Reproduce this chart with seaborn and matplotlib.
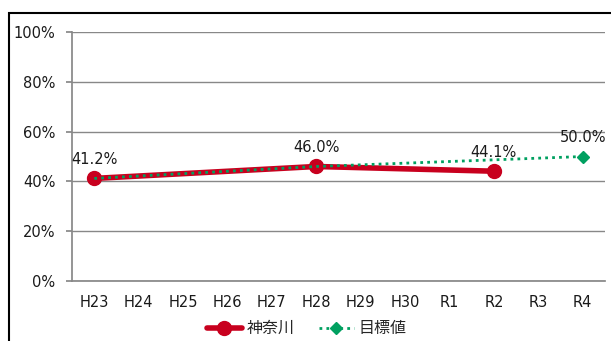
import matplotlib
matplotlib.use('Agg')
import matplotlib.pyplot as plt
import numpy as np
import pandas as pd
import seaborn as sns
from matplotlib.patches import Rectangle

YEARS = ['H23', 'H24', 'H25', 'H26', 'H27', 'H28', 'H29', 'H30', 'R1', 'R2', 'R3', 'R4']
KANAGAWA = [41.2, None, None, None, None, 46.0, None, None, None, 44.1, None, None]
TARGET = [41.2, None, None, None, None, 46.0, None, None, None, None, None, 50.0]
LABELS = {0: '41.2%', 5: '46.0%', 9: '44.1%', 11: '50.0%'}
SERIES_NAMES = ['神奈川', '目標値']

sns.set_theme(style='white')
plt.rcParams['font.family'] = ['DejaVu Sans', 'Noto Sans CJK JP']

df = pd.DataFrame({
    'x': np.arange(len(YEARS)),
    SERIES_NAMES[0]: pd.array(KANAGAWA, dtype='Float64'),
    SERIES_NAMES[1]: pd.array(TARGET, dtype='Float64'),
})

fig = plt.figure(figsize=(6.11, 3.41), dpi=100)
ax = fig.add_axes([0.118, 0.176, 0.872, 0.730])

# outer frame like the original chart box
fig.patches.append(Rectangle((9 / 611, -0.1), 1.2, 1 - 13 / 341 + 0.1,
                             transform=fig.transFigure, fill=False,
                             edgecolor='black', linewidth=1.5))

red = '#C8001E'
green = '#00A060'

k = df[['x', SERIES_NAMES[0]]].dropna()
t = df[['x', SERIES_NAMES[1]]].dropna()
ax.plot(k['x'], k[SERIES_NAMES[0]].astype(float), color=red, lw=4,
        marker='o', ms=10, label=SERIES_NAMES[0], zorder=3)
ax.plot(t['x'], t[SERIES_NAMES[1]].astype(float), color=green, lw=2,
        ls=(0, (1, 1.5)), marker='D', ms=6, markevery=[len(t) - 1],
        label=SERIES_NAMES[1], zorder=4)

vals = df[[SERIES_NAMES[0], SERIES_NAMES[1]]].max(axis=1)
for i, txt in LABELS.items():
    ax.annotate(txt, (i, float(vals[i])), xytext=(0, 8), textcoords='offset points',
                ha='center', va='bottom', fontsize=10.5, color='#1a1a1a')

ax.set_xlim(-0.5, len(YEARS) - 0.5)
ax.set_ylim(0, 100)
ax.set_yticks(range(0, 101, 20))
ax.set_yticklabels([f'{v}%' for v in range(0, 101, 20)], fontsize=10.5, color='#1a1a1a')
ax.set_xticks(range(len(YEARS)))
ax.set_xticklabels(YEARS, fontsize=10.5, color='#1a1a1a')
ax.tick_params(axis='x', length=0, pad=10)
ax.set_xticks(np.arange(-0.5, len(YEARS), 1), minor=True)
ax.tick_params(axis='x', which='minor', length=4, color='#888888', direction='out')
ax.tick_params(axis='y', length=4, color='#888888', direction='out', left=True, pad=8)
ax.grid(axis='y', color='#888888', lw=1)
for s in ['top', 'right']:
    ax.spines[s].set_visible(False)
ax.spines['left'].set_color('#888888')
ax.spines['bottom'].set_color('#888888')

ax.legend(loc='upper center', bbox_to_anchor=(0.44, -0.155), ncol=2, frameon=False,
          fontsize=11.5, handlelength=2.2, columnspacing=1.5, handletextpad=0.3,
          borderaxespad=0, borderpad=0.1)

plt.savefig('out.png', dpi=100)
